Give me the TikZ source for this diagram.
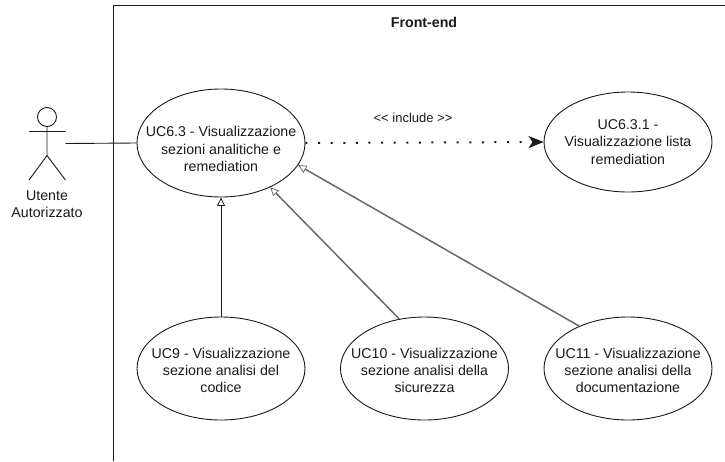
\documentclass[tikz,border=0pt]{standalone}
\usepackage{fontspec}
\setmainfont{Liberation Sans}
\usetikzlibrary{arrows.meta,shapes.geometric}
\definecolor{ink}{HTML}{1A1A1A}
\definecolor{greyline}{HTML}{6A6A6A}
\tikzset{
  usecase/.style={draw=ink,line width=0.9pt,ellipse,inner sep=-40pt,align=center,font=\fontsize{14.2}{17.2}\selectfont,text=ink},
  plain/.style={inner sep=0pt,align=center,font=\fontsize{14.2}{17}\selectfont,text=ink},
  actorline/.style={draw=ink,line width=0.9pt},
  gen/.style={draw=ink,line width=0.9pt,-{Triangle[open,length=8.5pt,width=8pt,line width=0.8pt]}},
  gengrey/.style={draw=greyline,line width=1.5pt,-{Triangle[open,length=8.5pt,width=8pt,line width=0.8pt]}},
  incl/.style={draw=ink,line width=2pt,dash pattern=on 2pt off 10.6pt,-{Stealth[length=15pt,width=12pt,inset=4pt]}}
}
\begin{document}
\begin{tikzpicture}[x=1pt,y=-1pt]
\useasboundingbox (0,0) rectangle (725,461);
\fill[white] (0,0) rectangle (725,461);
\draw[actorline] (113.5,461) -- (113.5,5.5) -- (725,5.5);
\node[plain,font=\bfseries\fontsize{14.2}{14}\selectfont] (title) at (424,22) {Front-end};
\node[usecase,minimum width=168pt,minimum height=108pt] (main) at (221,143) {\rule{0pt}{22.5pt}UC6.3 - Visualizzazione\\sezioni analitiche e\\remediation};
\node[usecase,minimum width=168pt,minimum height=100pt] (sub) at (628,142) {UC6.3.1 -\\Visualizzazione lista\\remediation};
\node[usecase,minimum width=168pt,minimum height=103pt] (uc9) at (221,368.5) {\rule{0pt}{14.5pt}UC9 - Visualizzazione\\sezione analisi del\\codice};
\node[usecase,minimum width=168pt,minimum height=103pt] (uc10) at (424.5,368.5) {\rule{0pt}{14.5pt}UC10 - Visualizzazione\\sezione analisi della\\sicurezza};
\node[usecase,minimum width=168pt,minimum height=103pt] (uc11) at (628,368.5) {\rule{0pt}{14.5pt}UC11 - Visualizzazione\\sezione analisi della\\documentazione};
\node[draw=ink,line width=0.9pt,circle,minimum size=19pt,inner sep=0pt] (head) at (47,117) {};
\coordinate (hip) at (47,155.5);
\coordinate (armL) at (29,131.5);
\coordinate (armR) at (65.5,131.5);
\coordinate (legL) at (29,180);
\coordinate (legR) at (65.5,180);
\coordinate (actorEnd) at (65.5,143.5);
\draw[actorline] (head.south) -- (hip) (armL) -- (armR) (legL) -- (hip) -- (legR);
\node[plain] (actor) at (47,204.5) {Utente\\Autorizzato};
\draw[actorline] (actorEnd) -- (main.west);
\draw[incl] (main.east) -- (sub.west);
\node[plain,font=\fontsize{13}{14}\selectfont] (incllabel) at (413,118) {<{}< include >{}>};
\draw[gen] (uc9.north) -- (main.south);
\draw[gengrey] (uc10.117.7) -- (main.-42.5);
\draw[gengrey] (uc11.139.6) -- (main.-16.8);
\end{tikzpicture}
\end{document}
